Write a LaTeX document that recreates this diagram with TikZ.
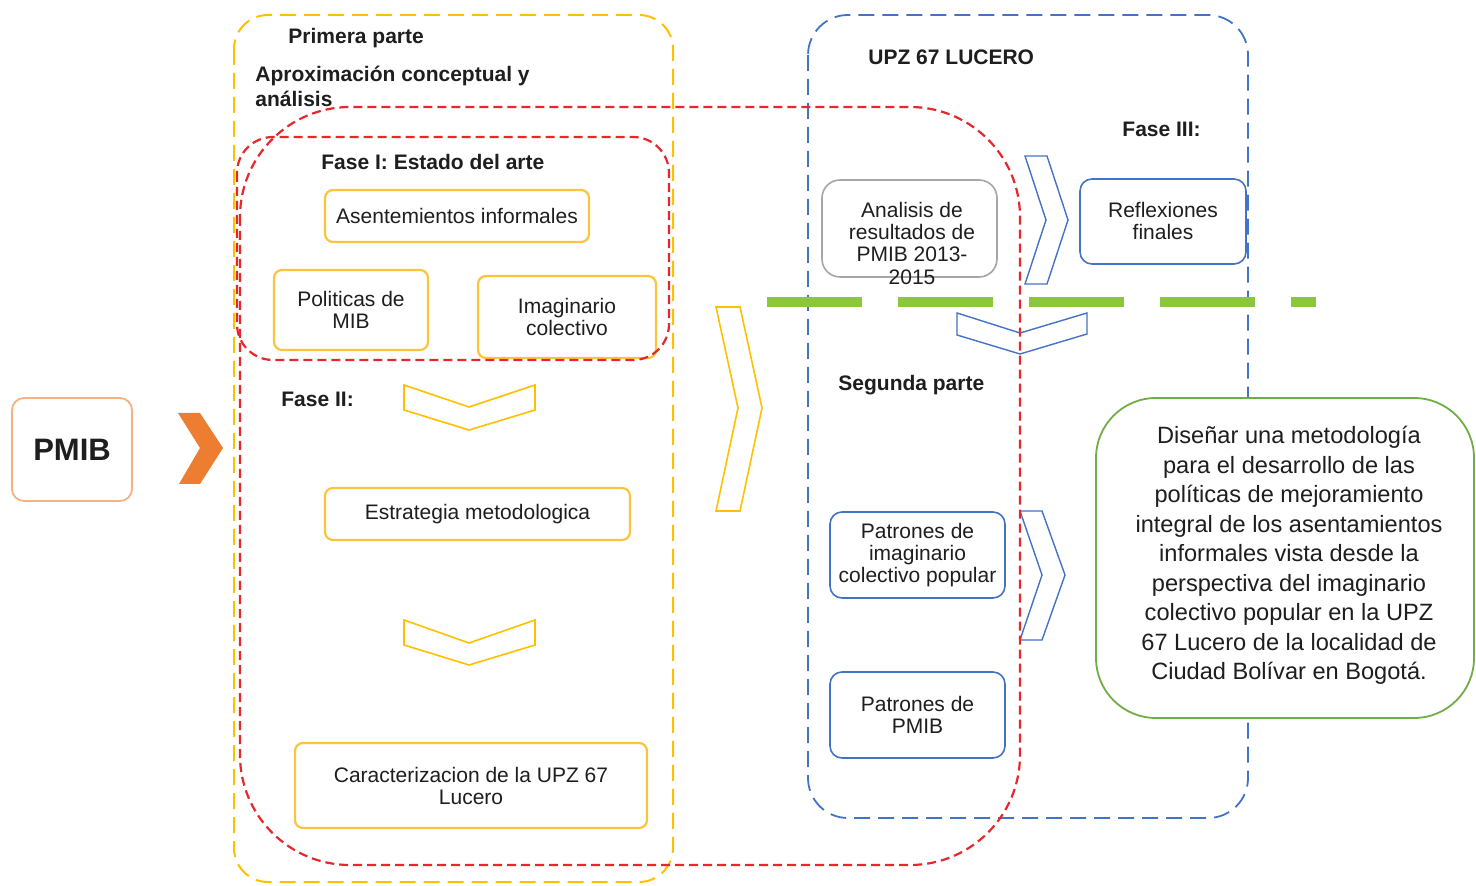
\documentclass[tikz,border=0pt]{standalone}
\usepackage{fontspec}
\setmainfont{Liberation Sans}
\definecolor{ygold}{RGB}{250,196,60}
\definecolor{yline}{RGB}{255,192,0}
\definecolor{rdash}{RGB}{230,40,45}
\definecolor{bdash}{RGB}{68,114,196}
\definecolor{gbox}{RGB}{112,173,71}
\definecolor{gline}{RGB}{140,198,63}
\definecolor{oarrow}{RGB}{237,125,49}
\definecolor{obox}{RGB}{244,177,131}
\definecolor{gray1}{RGB}{166,166,166}
\definecolor{txt}{RGB}{30,30,30}
\begin{document}
\begin{tikzpicture}[x=0.5pt,y=-0.5pt,
  smalltxt/.style={font=\fontsize{10.5}{11}\selectfont, text=txt, align=center},
  ybox/.style={smalltxt, draw=ygold, line width=1.1pt, rounded corners=4pt, fill=white},
  bbox/.style={smalltxt, draw=bdash, line width=0.8pt, rounded corners=6pt, fill=white},
  head/.style={font=\fontsize{10.5}{12.5}\selectfont\bfseries, text=txt, anchor=west, inner sep=0pt, align=left},
  ydash/.style={draw=yline, line width=1pt, dash pattern=on 8pt off 4pt},
  bdashed/.style={draw=bdash, line width=0.9pt, dash pattern=on 8pt off 4pt},
  rdashed/.style={draw=rdash, line width=1.1pt, dash pattern=on 4.5pt off 2.5pt},
  ychev/.style={draw=yline, line width=0.8pt, line join=miter},
  bchev/.style={draw=bdash, line width=0.7pt, line join=miter}
]
\useasboundingbox (0,0) rectangle (1476,886);

% containers
\draw[ydash, rounded corners=17pt] (234,15) rectangle (673,882);
\draw[bdashed, rounded corners=20pt] (808,15) rectangle (1248,818);

% PMIB
\node[draw=obox, line width=0.9pt, rounded corners=6pt, minimum width=60pt, minimum height=51.5pt,
      font=\fontsize{15.5}{18}\selectfont\bfseries, text=txt] (pmib) at (72,449.5) {PMIB};
\fill[oarrow] (178,413) -- (200,413) -- (223,448) -- (200,484) -- (179,484) -- (200,448) -- cycle;

% headings
\node[head] (primera) at (288,38) {Primera parte};
\node[head] (aprox) at (255,86.5) {Aproximación conceptual y\\análisis};
\node[head] (fase1) at (321,162) {Fase I: Estado del arte};
\node[head] (fase2) at (281,399) {Fase II:};
\node[head] (upz) at (868,57) {UPZ 67 LUCERO};
\node[head] (fase3) at (1122,129) {Fase III:};
\node[head] (segunda) at (838,385) {Segunda parte};

% yellow boxes
\node[ybox, minimum width=132pt, minimum height=26pt] (asent) at (457,216) {Asentemientos informales};
\node[ybox, minimum width=77pt, minimum height=40pt] (polit) at (351,310) {Politicas de\\MIB};
\node[ybox, minimum width=89pt, minimum height=41pt] (imag) at (567,317) {Imaginario\\colectivo};
\node[ybox, minimum width=152.5pt, minimum height=26pt] (estr) at (477.5,514) {Estrategia metodologica};
\node[ybox, minimum width=176pt, minimum height=42.5pt] (carac) at (471,785.5) {Caracterizacion de la UPZ 67\\Lucero};

% yellow chevrons
\draw[ychev] (404,385) -- (469,407) -- (535,385) -- (535,410) -- (469,430) -- (404,410) -- cycle;
\draw[ychev] (404,620) -- (469,643) -- (535,620) -- (535,645) -- (469,665) -- (404,645) -- cycle;
\draw[ychev] (716,307) -- (740,307) -- (762,408) -- (740,511) -- (716,511) -- (738,408) -- cycle;

% right column boxes
\node[draw=gray1, line width=0.8pt, rounded corners=9pt, fill=white, minimum width=87.5pt, minimum height=48.5pt] (analisis) at (909.5,228.5) {};
\node[smalltxt] (analisistxt) at (912,243.5) {Analisis de\\resultados de\\PMIB 2013-\\2015};
\node[bbox, minimum width=83pt, minimum height=42.5pt] (reflex) at (1163,221.5) {Reflexiones\\finales};
\node[bbox, minimum width=87.5pt, minimum height=43pt] (patim) at (917.5,555) {Patrones de\\imaginario\\colectivo popular};
\node[bbox, minimum width=87.5pt, minimum height=43pt] (patpm) at (917.5,715) {Patrones de\\PMIB};

% green dashed line
\draw[draw=gline, line width=5pt, dash pattern=on 47.5pt off 18pt] (767,302) -- (1316,302);

% blue chevrons
\draw[bchev] (1025,156) -- (1047,156) -- (1068,220) -- (1047,284) -- (1025,284) -- (1046,220) -- cycle;
\draw[bchev] (957,313) -- (1020,333) -- (1087,313) -- (1087,334) -- (1020,354) -- (957,335) -- cycle;
\draw[bchev] (1020,511) -- (1042,511) -- (1065,575) -- (1042,640) -- (1020,640) -- (1042,575) -- cycle;

% green goal box
\node[draw=gbox, line width=0.9pt, rounded corners=30pt, fill=white, minimum width=189pt, minimum height=160pt] (goal) at (1285,558) {};
\node[font=\fontsize{11.8}{14.75}\selectfont, text=txt, align=center] (goaltxt) at (1289,555.5)
 {Diseñar una metodología\\para el desarrollo de las\\políticas de mejoramiento\\integral de los asentamientos\\informales vista desde la\\perspectiva del imaginario\\colectivo popular en la UPZ\\67 Lucero de la localidad de\\Ciudad Bolívar en Bogotá.};

% red dashed outlines
\draw[rdashed, rounded corners=18pt] (237,137) rectangle (669,360);
\draw[rdashed, rounded corners=55pt] (240,107) rectangle (1020,865);
\end{tikzpicture}
\end{document}
